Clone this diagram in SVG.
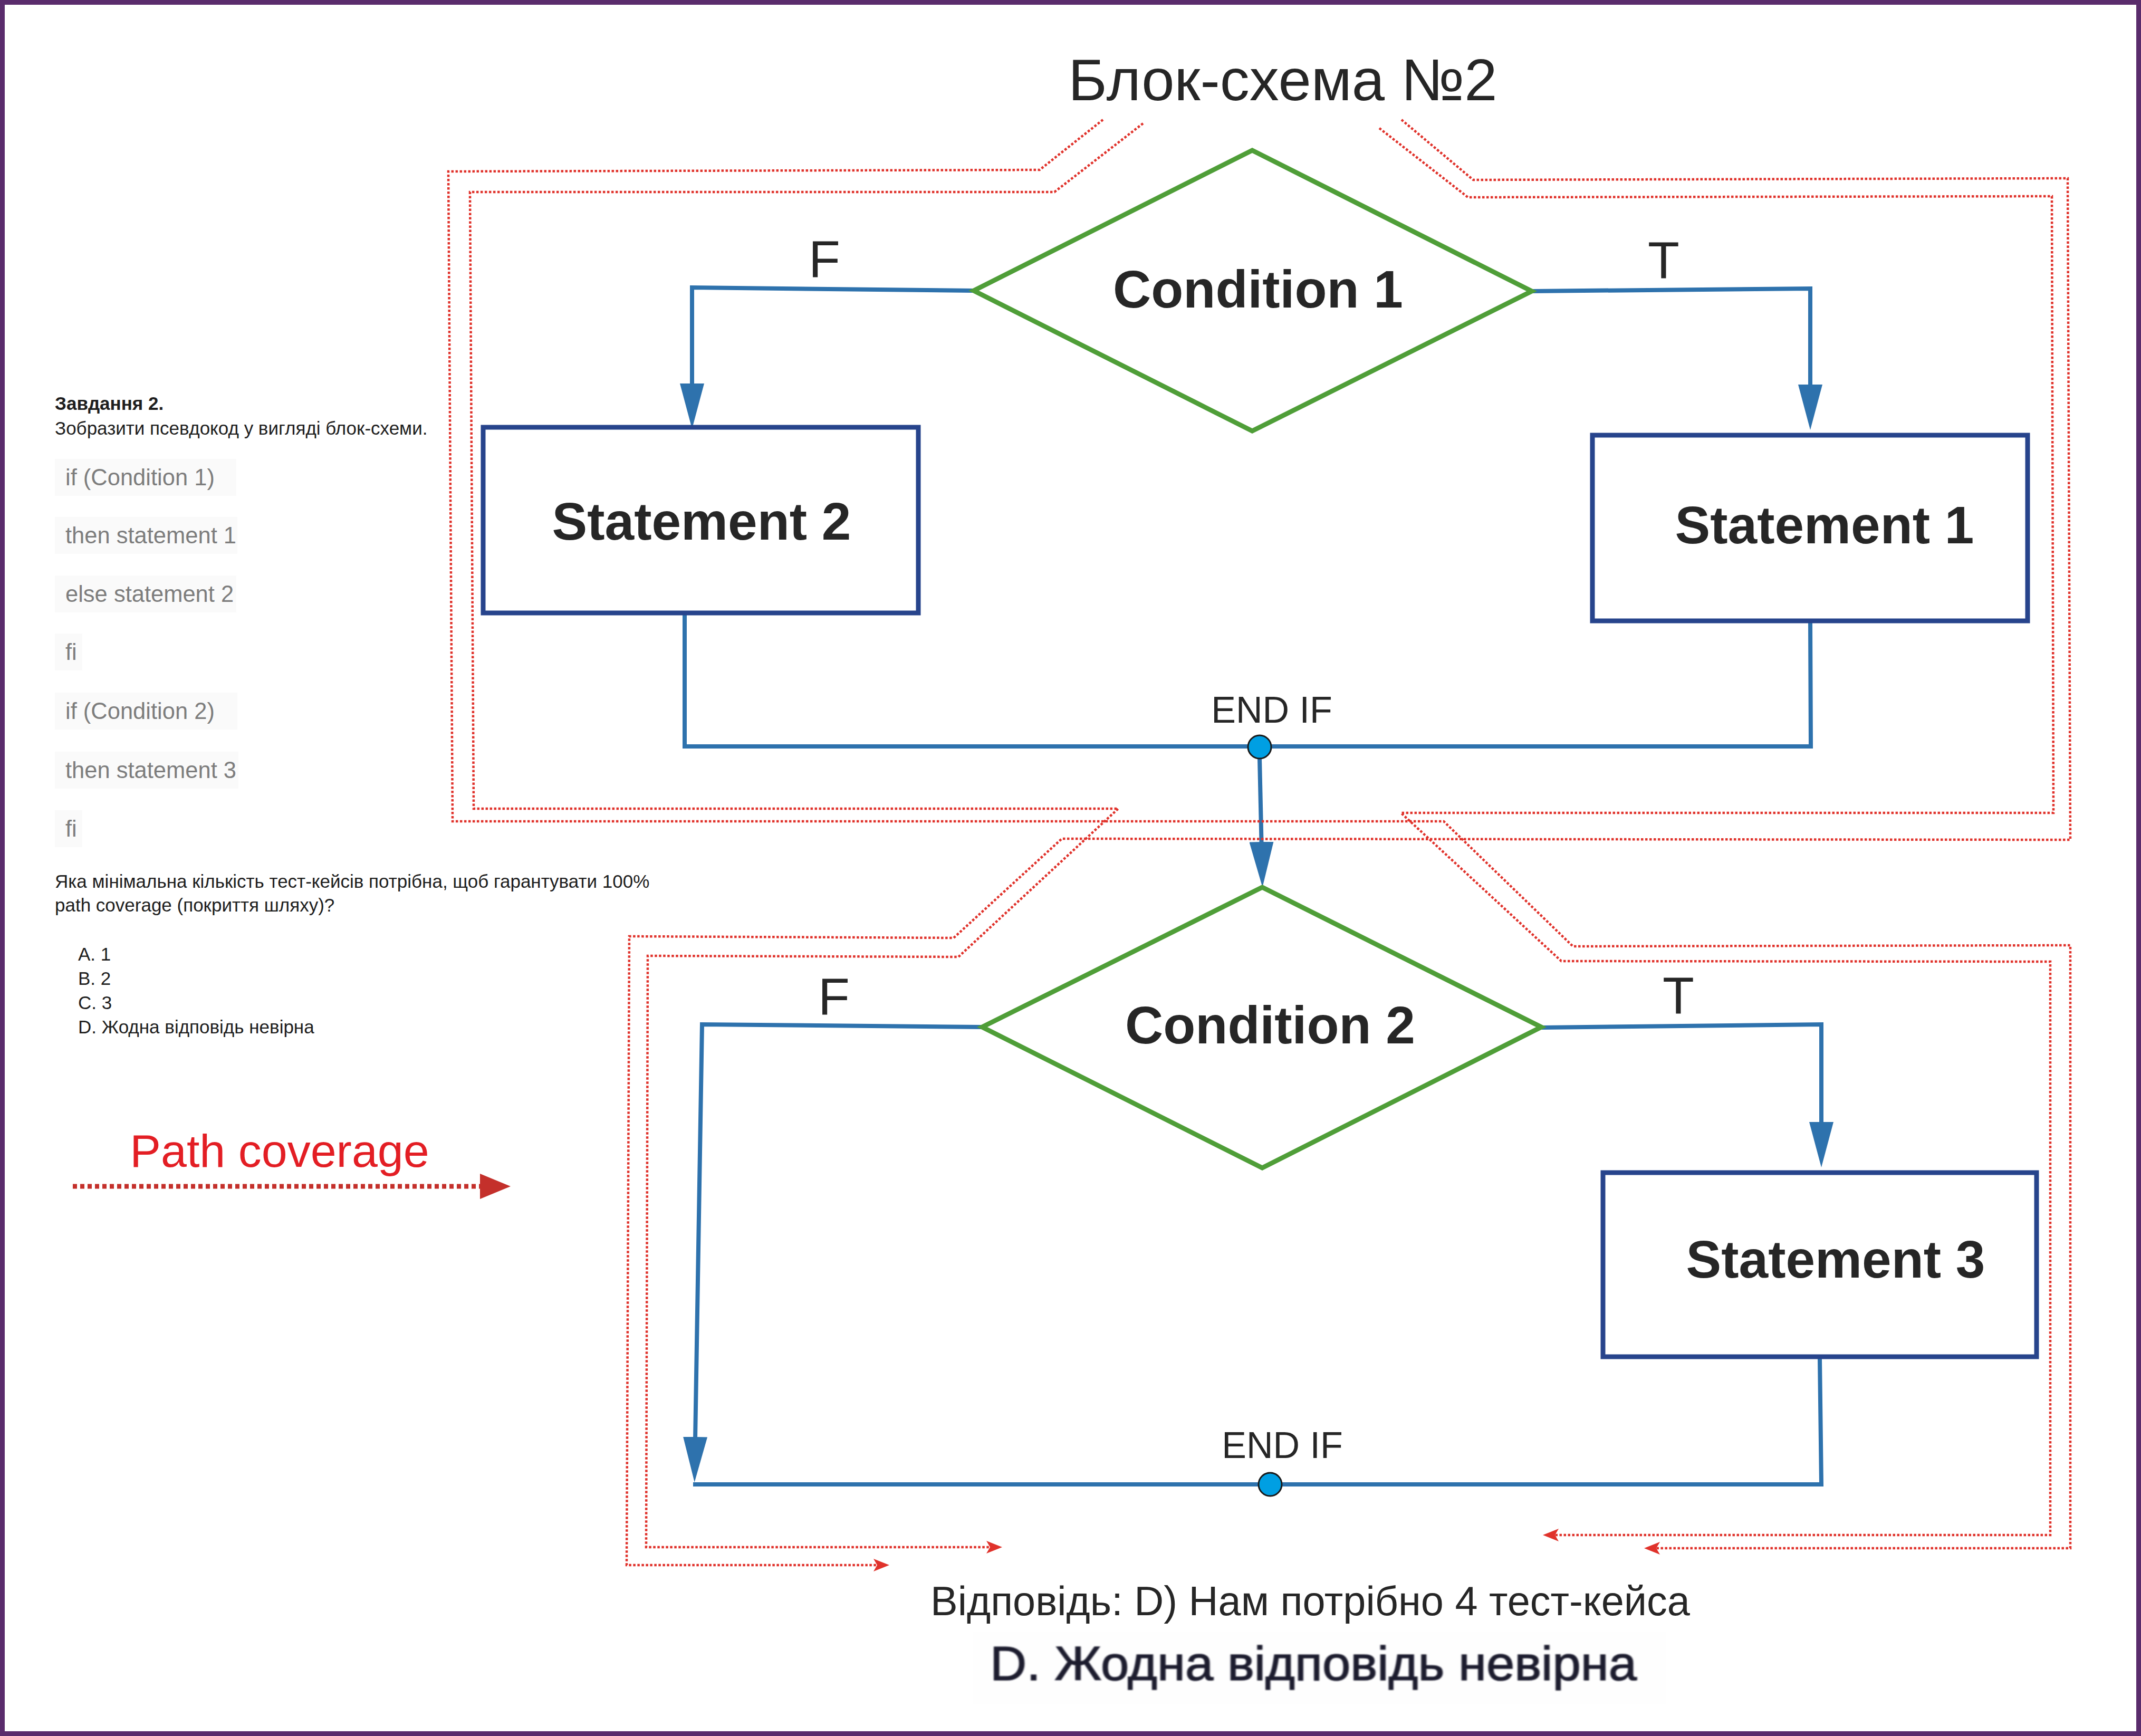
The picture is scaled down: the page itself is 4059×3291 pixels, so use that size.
<svg xmlns="http://www.w3.org/2000/svg" width="4059" height="3291" viewBox="0 0 4059 3291">
<style>
.frame{fill:#ffffff;stroke:#5a2c6c;stroke-width:9}
.dia{fill:none;stroke:#4f9e38;stroke-width:9;stroke-linejoin:miter}
.box{fill:none;stroke:#27448c;stroke-width:9}
.con{fill:none;stroke:#2e72ad;stroke-width:8;stroke-linejoin:miter}
.red{fill:none;stroke:#e0322b;stroke-width:4.5;stroke-dasharray:4.5 3.5}
.t{font-family:"Liberation Sans",Arial,sans-serif;fill:#262626}
.big{font-size:100px;font-weight:bold;text-anchor:middle}
.lab{font-size:98px;text-anchor:middle}
.endif{font-size:70px;text-anchor:middle}
.doc{font-family:"Liberation Sans",Arial,sans-serif;font-size:35px;fill:#1e1e1e}
.code{font-family:"Liberation Sans",Arial,sans-serif;font-size:43.5px;fill:#7d7d7d}
.cbg{fill:#fafafa}
</style>
<defs>
<marker id="arrB" markerUnits="userSpaceOnUse" viewBox="0 0 86 46" markerWidth="86" markerHeight="46" refX="66" refY="23" orient="auto"><path d="M0,0 L86,23 L0,46 Z" fill="#2e72ad"/></marker>
<marker id="arrR" markerUnits="userSpaceOnUse" viewBox="0 0 30 24" markerWidth="30" markerHeight="24" refX="22" refY="12" orient="auto"><path d="M0,0 L30,12 L0,24 L7,12 Z" fill="#e0322b"/></marker>
<filter id="soft" x="-5%" y="-20%" width="110%" height="140%"><feGaussianBlur stdDeviation="1.3"/></filter>
</defs>

<rect class="frame" x="4.5" y="4.5" width="4050" height="3282"/>

<g id="title"><text class="t" x="2432" y="190" font-size="112" text-anchor="middle">Блок-схема №2</text></g>

<g id="task-text">
<text class="doc" x="104" y="777" font-weight="bold">Завдання 2.</text>
<text class="doc" x="104" y="824">Зобразити псевдокод у вигляді блок-схеми.</text>
<rect class="cbg" x="104" y="870" width="344" height="70"/>
<rect class="cbg" x="104" y="980" width="346" height="70"/>
<rect class="cbg" x="104" y="1091" width="344" height="70"/>
<rect class="cbg" x="104" y="1201" width="52" height="70"/>
<rect class="cbg" x="104" y="1313" width="346" height="70"/>
<rect class="cbg" x="104" y="1425" width="348" height="70"/>
<rect class="cbg" x="104" y="1536" width="52" height="70"/>
<text class="code" x="124" y="920">if (Condition 1)</text>
<text class="code" x="124" y="1030">then statement 1</text>
<text class="code" x="124" y="1141">else statement 2</text>
<text class="code" x="124" y="1251">fi</text>
<text class="code" x="124" y="1363">if (Condition 2)</text>
<text class="code" x="124" y="1475">then statement 3</text>
<text class="code" x="124" y="1586">fi</text>
<text class="doc" x="104" y="1683">Яка мінімальна кількість тест-кейсів потрібна, щоб гарантувати 100%</text>
<text class="doc" x="104" y="1728">path coverage (покриття шляху)?</text>
<text class="doc" x="148" y="1821">A. 1</text>
<text class="doc" x="148" y="1867">B. 2</text>
<text class="doc" x="148" y="1913">C. 3</text>
<text class="doc" x="148" y="1959">D. Жодна відповідь невірна</text>
</g>

<g id="legend">
<text x="530" y="2212" font-family="'Liberation Sans',Arial,sans-serif" font-size="88" fill="#e31e24" text-anchor="middle">Path coverage</text>
<line x1="138" y1="2249" x2="912" y2="2249" stroke="#c4302b" stroke-width="9" stroke-dasharray="8 6"/>
<path d="M910,2225 L968,2249 L910,2273 Z" fill="#c4302b"/>
</g>

<g id="connectors">
<polyline class="con" points="1846,551 1312,545 1312,793" marker-end="url(#arrB)"/>
<polyline class="con" points="2904,552 3432,547 3432,795" marker-end="url(#arrB)"/>
<polyline class="con" points="1298,1166 1298,1415 3433,1415 3432,1181"/>
<line class="con" x1="2388" y1="1438" x2="2393" y2="1662" marker-end="url(#arrB)"/>
<polyline class="con" points="1862,1947 1331,1942 1317,2790" marker-end="url(#arrB)"/>
<polyline class="con" points="2922,1948 3453,1942 3453,2193" marker-end="url(#arrB)"/>
<polyline class="con" points="1314,2814 3453,2814 3450,2576"/>
</g>

<g id="path-coverage">
<polyline class="red" points="2167,234 1999,364 891,364 898,1533 2120,1533 1817,1814 1228,1812 1225,2933 1892,2933" marker-end="url(#arrR)"/>
<polyline class="red" points="2091,227 1971,322 850,325 858,1557 2737,1557 2982,1794 3925,1792 3925,2935 3125,2935" marker-end="url(#arrR)"/>
<polyline class="red" points="2657,227 2793,341 3920,338 3925,1592 2013,1590 1808,1778 1193,1775 1188,2967 1678,2967" marker-end="url(#arrR)"/>
<polyline class="red" points="2615,243 2783,374 3890,372 3893,1541 2656,1541 2960,1822 3887,1823 3887,2910 2933,2910" marker-end="url(#arrR)"/>
</g>

<g id="condition1">
<polygon class="dia" points="2374,285 2904,552 2374,817 1846,551"/>
<text class="t big" x="2385" y="583">Condition 1</text>
</g>
<g id="label-f1"><text class="t lab" x="1563" y="525">F</text></g>
<g id="label-t1"><text class="t lab" x="3154" y="527">T</text></g>

<g id="statement2">
<rect class="box" x="916" y="810" width="825" height="352"/>
<text class="t big" x="1330" y="1023">Statement 2</text>
</g>
<g id="statement1">
<rect class="box" x="3019" y="825" width="825" height="352"/>
<text class="t big" x="3459" y="1030">Statement 1</text>
</g>

<g id="endif1">
<text class="t endif" x="2411" y="1370">END IF</text>
<circle cx="2388" cy="1416" r="22" fill="#009fe3" stroke="#1a1a1a" stroke-width="3"/>
</g>

<g id="condition2">
<polygon class="dia" points="2393,1682 2922,1947 2393,2214 1862,1947"/>
<text class="t big" x="2408" y="1978">Condition 2</text>
</g>
<g id="label-f2"><text class="t lab" x="1581" y="1923">F</text></g>
<g id="label-t2"><text class="t lab" x="3182" y="1921">T</text></g>

<g id="statement3">
<rect class="box" x="3039" y="2223" width="822" height="349"/>
<text class="t big" x="3480" y="2422">Statement 3</text>
</g>

<g id="endif2">
<text class="t endif" x="2431" y="2764">END IF</text>
<circle cx="2408" cy="2814" r="22" fill="#009fe3" stroke="#1a1a1a" stroke-width="3"/>
</g>

<g id="answer">
<text class="t" x="1764" y="3062" font-size="77.5">Відповідь: D) Нам потрібно 4 тест-кейса</text>
<rect x="1844" y="3094" width="1315" height="137" fill="#fefefe"/>
<text transform="translate(1877,3185) scale(1.065,1)" x="0" y="0" font-family="'Liberation Sans',Arial,sans-serif" font-size="90" fill="#1b1b2e" stroke="#1b1b2e" stroke-width="1.5" filter="url(#soft)">D. Жодна відповідь невірна</text>
</g>
</svg>
